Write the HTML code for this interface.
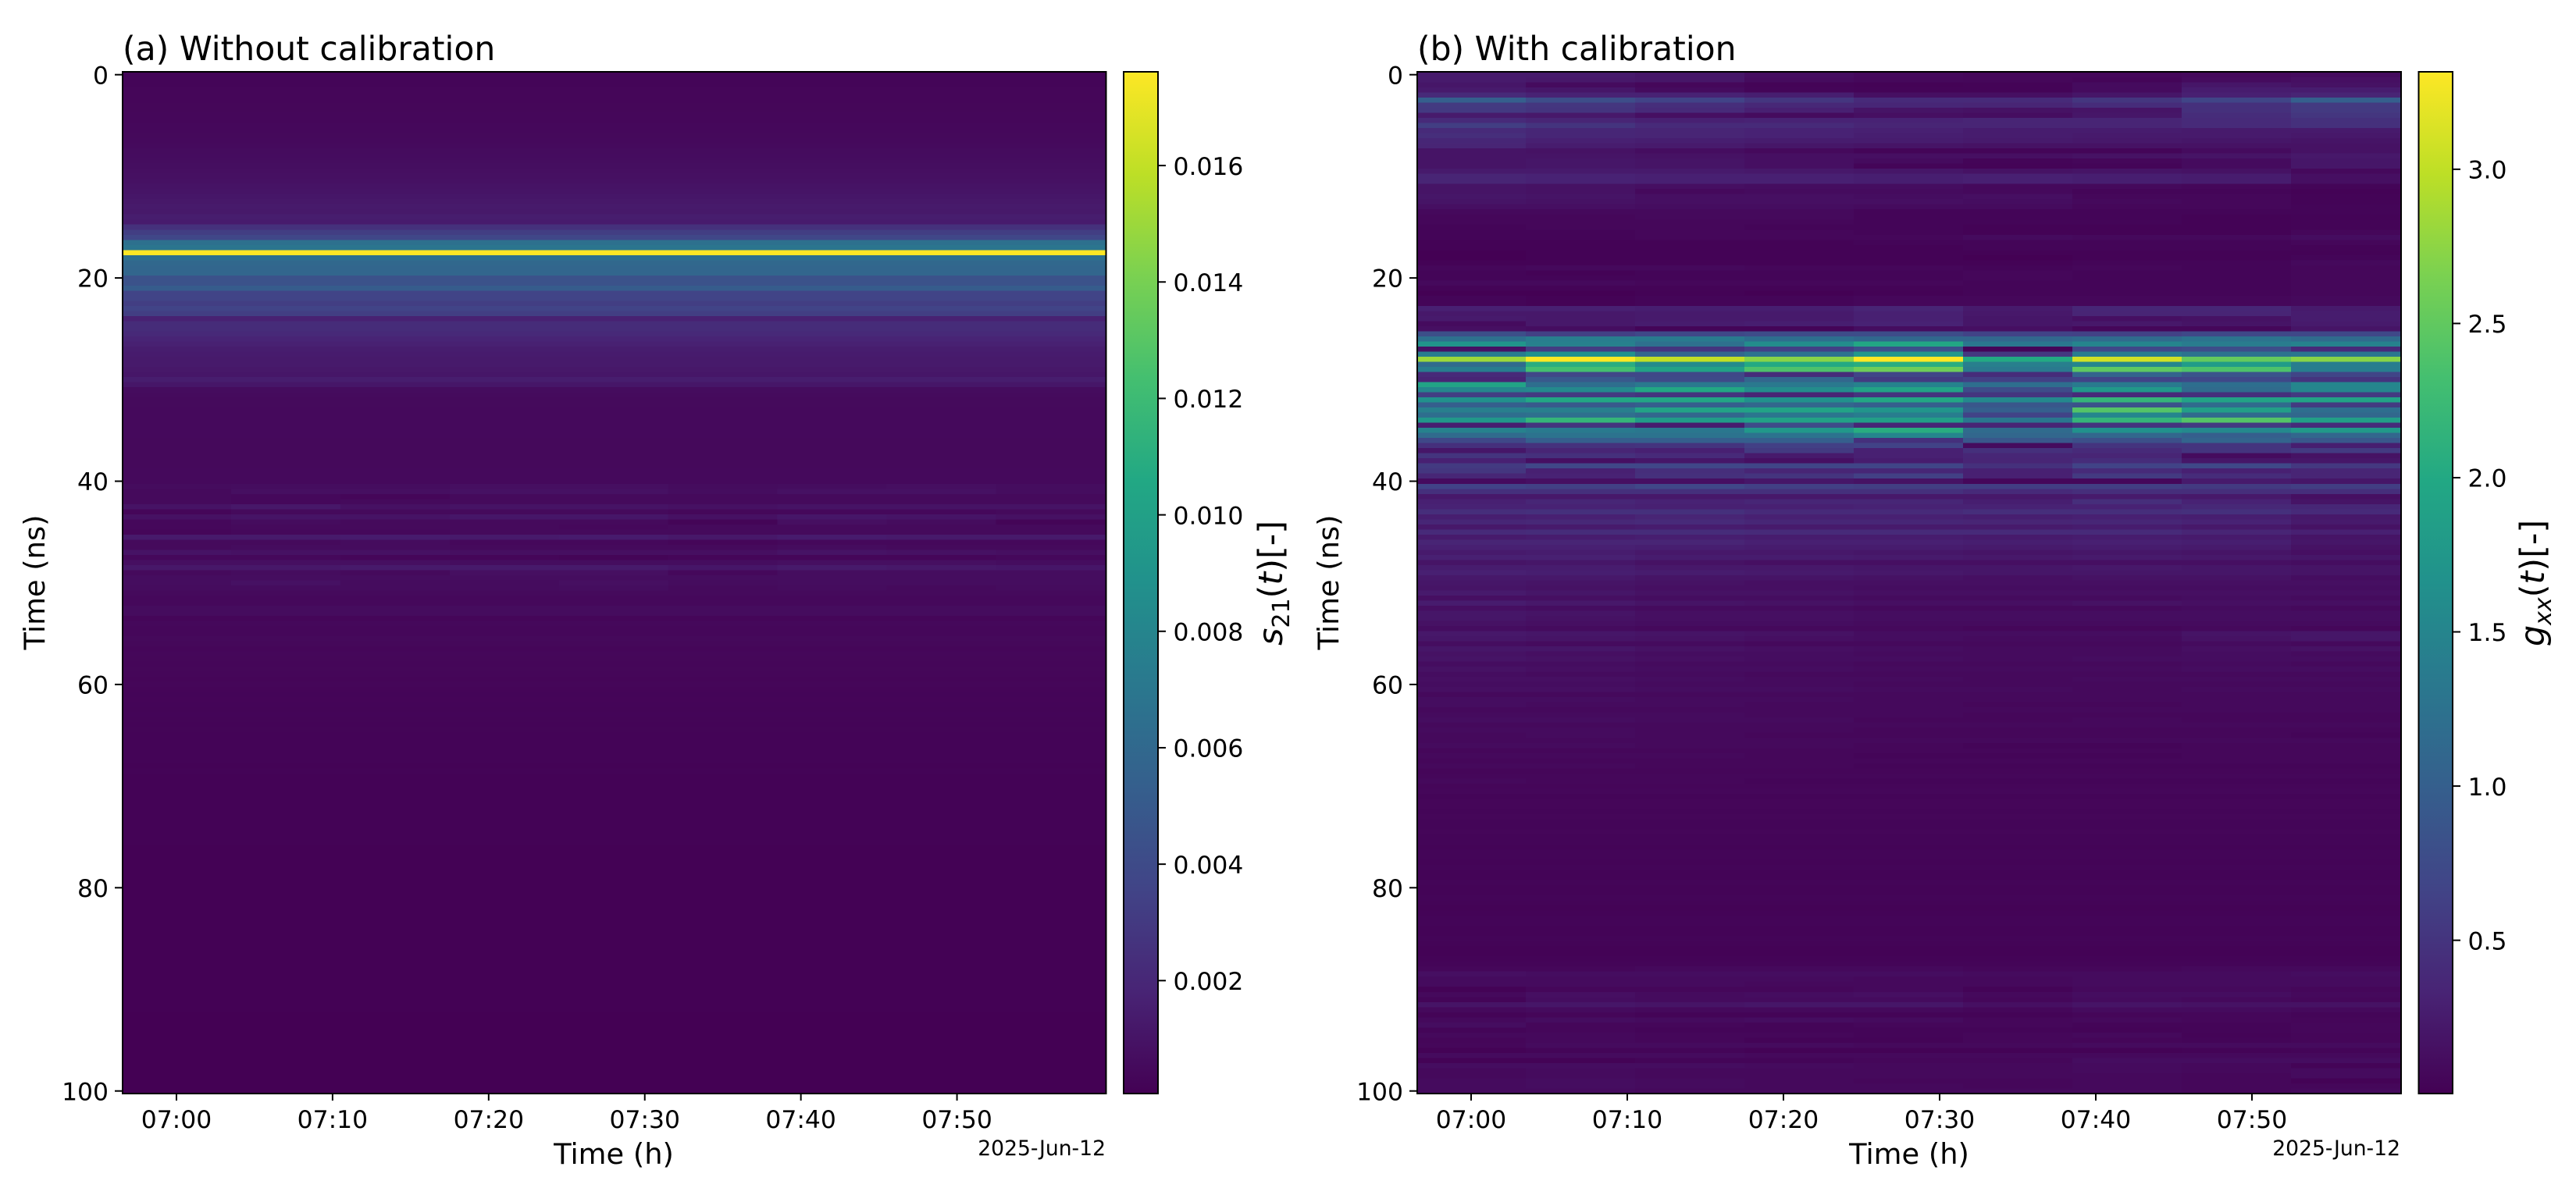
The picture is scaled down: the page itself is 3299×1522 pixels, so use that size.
<!DOCTYPE html>
<html lang="en">
<head>
<meta charset="utf-8">
<title>Without and with calibration heatmaps</title>
<style>
html,body{margin:0;padding:0;background:#fff;}
svg{display:block;font-family:"DejaVu Sans","Liberation Sans",sans-serif;fill:#000;}
</style>
</head>
<body>
<svg id="figure" xmlns="http://www.w3.org/2000/svg" width="3299" height="1522" viewBox="0 0 3299 1522">
  <defs>
    <linearGradient id="viridis-gradient" x1="0" y1="1" x2="0" y2="0"></linearGradient>
  </defs>
  <rect x="0" y="0" width="3299" height="1522" fill="#ffffff"/>
  <g id="panel-a"></g>
  <g id="panel-b"></g>

  <text x="157" y="77" font-size="42.5">(a) Without calibration</text>
  <text x="1815" y="77" font-size="42.5">(b) With calibration</text>

  <text transform="translate(57,746) rotate(-90)" text-anchor="middle" font-size="36.8">Time (ns)</text>
  <text transform="translate(1714,746) rotate(-90)" text-anchor="middle" font-size="36.8">Time (ns)</text>

  <text x="786" y="1491" text-anchor="middle" font-size="36.8">Time (h)</text>
  <text x="2445" y="1491" text-anchor="middle" font-size="36.8">Time (h)</text>

  <text x="1416" y="1480" text-anchor="end" font-size="26.6">2025-Jun-12</text>
  <text x="3074" y="1480" text-anchor="end" font-size="26.6">2025-Jun-12</text>

  <text transform="translate(1642,747) rotate(-90)" text-anchor="middle" font-size="43"><tspan font-style="italic">s</tspan><tspan dy="9" font-size="30">21</tspan><tspan dy="-9">(</tspan><tspan font-style="italic">t</tspan><tspan>)[-]</tspan></text>
  <text transform="translate(3258,747) rotate(-90)" text-anchor="middle" font-size="43"><tspan font-style="italic">g</tspan><tspan dy="9" font-size="30" font-style="italic">xx</tspan><tspan dy="-9">(</tspan><tspan font-style="italic">t</tspan><tspan>)[-]</tspan></text>
</svg>

<script>
// ---------- shared axis data ----------
const columnMinutes = [0, 7, 14, 21, 28, 35, 42, 49, 56];
const xTickMinutes = [0, 10, 20, 30, 40, 50];
const xTickLabels = ["07:00", "07:10", "07:20", "07:30", "07:40", "07:50"];
const yTicks = [0, 20, 40, 60, 80, 100];
const rowStepNs = 0.5;
const viridisStops = ["#440154", "#482475", "#414487", "#355f8d", "#2a788e", "#21918c", "#22a884", "#44bf70", "#7ad151", "#bddf26", "#fde725"];

const colorbarATicks = [0.002, 0.004, 0.006, 0.008, 0.010, 0.012, 0.014, 0.016];
const colorbarATickLabels = ["0.002", "0.004", "0.006", "0.008", "0.010", "0.012", "0.014", "0.016"];
const colorbarARange = [0.00006, 0.01761];
const colorbarBTicks = [0.5, 1.0, 1.5, 2.0, 2.5, 3.0];
const colorbarBTickLabels = ["0.5", "1.0", "1.5", "2.0", "2.5", "3.0"];
const colorbarBRange = [0.003, 3.316];

// ---------- panel (a): s21 in units of 1e-5; a single number means the row is uniform across columns ----------
const s21Rows = [
27,27,27,31,31,31,34,34,38,38,41,41,45,48,52,
59,62,66,69,76,80,85,94,
103,111,120,129,125,146,138,
252,322,375,655,690,1761,655,594,585,585,
445,445,515,357,357,322,357,322,164,225,
225,208,181,164,146,138,129,129,120,111,
146,111,59,55,50,50,48,48,46,46,
46,46,44,44,44,44,44,44,46,46,
46,
[59,67,67,76,76,59,67,76,67],
[50,76,76,85,85,67,85,85,67],
[50,41,32,50,50,50,50,50,50],
[50,41,50,50,50,50,50,50,50],
[94,120,85,94,94,85,94,94,94],
[32,50,50,50,50,40,41,41,50],
[85,103,94,111,111,85,111,103,85],
[41,59,50,50,50,24,76,59,24],
[41,50,50,50,41,50,50,50,50],
[32,41,41,50,50,50,50,50,50],
[129,129,138,129,138,120,138,129,129],
[50,50,59,41,41,32,41,41,41],
[50,59,59,50,50,50,59,50,50],
[94,85,85,76,76,76,94,85,76],
[41,41,32,32,24,32,32,32,41],
[76,76,76,67,67,67,76,76,67],
[120,120,129,129,129,111,129,120,111],
[50,59,50,76,76,41,67,67,67],
67,
[67,85,59,59,76,59,67,67,67],
[59,59,59,59,67,50,59,50,59],
50,41,41,59,59,32,
41,38,36,44,40,32,36,34,30,34,30,28,
30,28,26,28,26,24,26,24,22,24,22,22,20,22,20,20,18,20,18,18,
18,16,18,16,16,16,15,15,14,14,14,14,13,13,13,12,12,12,12,12,
11,11,11,11,11,10,10,10,10,10,10,10,10,9,9,9,9,9,9,9,
9,9,9,9,9,8,8,8,8,8,8,8,8,8,8,8,8,8,8,8,8
];

// ---------- panel (b): g_xx in units of 0.01; one entry per 0.5 ns row, nine time columns ----------
const gxxRows = [
[24,24,20,12,8,6,6,8,10],
[24,22,20,10,7,6,4,10,14],
[20,10,6,3,2,3,10,20,16],
[24,20,10,4,3,3,10,26,26],
[40,32,32,28,14,14,20,30,34],
[100,78,66,52,40,40,52,68,100],
[56,52,44,38,36,34,42,46,56],
[55,50,40,30,18,16,18,46,56],
[24,22,14,10,14,12,20,42,52],
[40,34,30,32,32,34,34,40,46],
[60,50,40,40,34,34,34,40,46],
[40,36,34,32,30,26,26,24,24],
[44,36,34,32,28,26,24,24,22],
[36,30,28,26,26,24,22,20,18],
[34,26,24,20,18,16,16,16,16],
[18,16,12,8,4,4,4,10,16],
[18,18,16,14,14,14,16,18,22],
[18,20,18,14,10,4,6,10,20],
[18,20,18,14,4,3,4,10,20],
[24,24,24,22,20,16,18,16,8],
[34,32,30,30,28,30,28,26,14],
[34,32,30,30,28,30,28,26,14],
[18,16,14,12,12,8,8,6,4],
[18,16,8,10,10,8,4,4,2],
[20,18,14,14,12,14,6,6,3],
[18,16,14,14,14,12,8,6,3],
[14,14,12,12,10,10,6,6,4],
[8,8,8,8,4,4,4,4,4],
[6,6,8,8,4,4,4,2,3],
[6,6,6,6,4,4,4,2,3],
[4,6,6,4,4,2,2,2,3],
[4,4,6,6,4,2,2,2,6],
[4,4,6,6,6,10,8,8,12],
[2,2,2,2,4,4,4,4,6],
[2,2,2,2,2,4,4,4,3],
[0,2,2,2,2,2,2,2,2],
[0,2,2,2,2,0,2,2,4],
[2,2,2,2,2,2,4,4,8],
[6,8,8,6,6,4,6,4,6],
[4,2,4,4,4,6,4,4,6],
[4,4,4,4,4,6,4,4,6],
[8,8,6,6,6,4,4,4,6],
[3,3,3,3,3,4,4,4,6],
[0,0,2,0,2,4,4,4,6],
[4,2,4,4,6,6,6,6,8],
[4,2,4,4,6,6,6,6,8],
[30,30,28,28,34,24,36,36,24],
[22,22,24,24,30,22,34,34,26],
[24,22,24,24,30,20,14,16,26],
[10,22,26,28,32,20,22,18,24],
[14,12,4,4,12,14,6,6,18],
[80,62,72,76,78,66,64,72,72],
[122,140,136,120,112,110,116,126,116],
[172,144,122,160,198,132,150,138,146],
[16,58,50,62,82,4,72,78,40],
[140,166,110,126,176,54,140,126,132],
[282,331,300,272,331,200,308,252,272],
[116,206,158,200,206,142,150,182,140],
[140,232,190,238,258,134,248,238,140],
[40,70,72,42,68,42,106,86,68],
[34,92,74,110,56,62,66,72,50],
[192,120,134,134,146,120,136,120,152],
[152,156,198,160,192,76,176,116,152],
[60,56,50,34,50,52,40,46,56],
[166,198,196,166,198,156,218,192,192],
[100,92,100,110,100,90,84,116,56],
[142,142,192,192,172,100,242,186,120],
[120,122,110,130,140,66,152,116,112],
[176,218,182,190,186,132,218,242,186],
[28,50,26,76,36,34,50,56,42],
[146,136,132,176,206,116,166,156,178],
[116,126,126,126,152,110,110,100,110],
[72,100,100,100,46,90,80,106,90],
[46,48,50,62,66,10,50,50,28],
[20,34,30,56,30,46,40,50,56],
[50,46,40,24,30,36,34,10,16],
[30,14,20,14,26,34,42,20,20],
[56,70,70,68,68,46,66,72,54],
[52,30,44,34,36,30,40,30,34],
[36,32,46,50,62,30,56,42,34],
[10,14,14,20,16,6,6,24,20],
[66,62,70,62,60,60,60,56,60],
[46,46,46,46,46,40,44,44,44],
[22,22,22,22,22,22,24,22,14],
[30,36,32,36,36,28,44,32,18],
[32,32,30,30,32,32,32,38,36],
[44,46,46,40,40,44,44,46,40],
[28,30,34,30,30,28,30,28,22],
[36,38,40,36,36,34,36,32,24],
[22,24,26,24,24,24,26,22,16],
[40,42,42,40,40,40,40,34,30],
[24,26,28,26,26,24,26,24,18],
[34,34,34,30,30,28,30,28,20],
[30,30,28,26,26,24,26,24,16],
[24,26,22,22,20,18,20,18,14],
[30,30,26,26,24,22,24,22,20],
[18,20,16,14,14,14,14,14,12],
[26,26,22,22,20,20,22,20,18],
[30,28,26,24,22,20,20,20,18],
[22,22,18,18,16,14,16,16,12],
[20,18,16,14,14,14,14,14,14],
[18,16,14,14,12,12,12,12,12],
[24,20,16,16,14,14,14,14,14],
[14,14,12,12,10,10,10,12,10],
[26,22,18,16,14,14,16,14,14],
[14,12,10,10,8,8,8,10,8],
[20,18,14,14,12,12,12,12,12],
[20,16,14,14,12,12,12,12,12],
[16,14,12,12,10,10,10,10,10],
[12,10,8,8,8,6,6,8,6],
[22,20,18,16,12,12,12,18,20],
[20,18,16,14,12,10,10,16,20],
[12,10,10,8,8,8,8,10,8],
[20,20,16,14,12,10,10,14,16],
[16,14,12,12,10,10,10,12,10],
[18,16,14,12,12,10,12,12,12],
[12,12,10,10,8,8,8,10,8],
[16,14,12,12,10,10,10,12,12],
[12,10,10,8,8,8,8,8,8],
[14,14,12,10,10,8,10,10,10],
[12,12,10,10,8,8,8,8,8],
[14,14,12,12,10,10,8,10,10],
8,
[12,12,10,10,8,8,8,8,8],
[12,10,10,8,8,6,6,8,8],
8,
[10,10,10,8,8,6,6,6,6],
[12,12,10,10,6,6,8,6,6],
8,
[10,10,8,8,6,6,6,6,6],
[8,10,8,6,6,6,6,6,4],
8,
[10,10,8,8,6,4,4,6,6],
6,
[8,8,8,6,4,4,4,6,6],
6,
[8,8,6,6,4,4,4,4,4],
5,6,
[8,6,6,4,4,4,4,4,4],
5,6,4,5,5,4,5,4,4,5,
4,4,3,4,4,3,4,3,3,4,
3,3,4,3,2,3,4,4,3,3,
4,3,2,2,3,4,
[6,6,8,8,8,6,6,8,8],
[14,12,12,12,12,10,10,10,12],
[10,10,10,10,8,8,10,10,10],
[10,10,10,8,8,8,10,10,10],
[2,6,6,6,8,3,8,8,6],
[8,14,10,12,14,8,12,12,8],
[4,12,10,10,10,6,10,8,6],
[18,20,18,20,20,14,18,16,16],
[8,10,8,8,8,6,10,10,8],
[3,5,3,3,3,3,5,6,4],
[8,12,10,12,10,6,8,6,5],
[12,6,6,4,6,6,4,4,6],
[4,6,4,4,4,4,3,4,6],
[8,8,6,6,4,6,8,3,5],
[5,8,6,3,3,6,5,4,5],
[6,10,10,10,8,8,10,10,10],
[2,4,4,2,2,2,2,3,4],
[10,10,10,8,8,8,8,8,8],
[2,2,4,4,6,6,12,12,12],
[12,12,12,10,8,8,10,8,3],
[8,10,8,8,8,8,10,8,10],
[8,10,8,8,8,8,8,6,10],
[10,12,10,8,6,6,8,6,2],
[10,12,10,8,8,6,8,6,6],
[10,10,8,8,8,8,8,6,8]
];

// ---------- geometry of the figure ----------
const SVG_NS = "http://www.w3.org/2000/svg";
const plotTop = 92;
const plotBottom = 1401;
const timeDomain = [-3.45, 59.55];
const nsPerPixel = 1 / 13.02;

function yScale(ns) { return 95.7 + ns / nsPerPixel; }
function makeXScale(left, right) {
  return function (minute) {
    return left + (minute - timeDomain[0]) / (timeDomain[1] - timeDomain[0]) * (right - left);
  };
}
function makeBarScale(range) {
  return function (value) {
    return plotBottom - (value - range[0]) / (range[1] - range[0]) * (plotBottom - plotTop);
  };
}
function hexToRgb(hex) {
  return [parseInt(hex.slice(1, 3), 16), parseInt(hex.slice(3, 5), 16), parseInt(hex.slice(5, 7), 16)];
}
function viridis(fraction) {
  const f = Math.max(0, Math.min(1, fraction)) * (viridisStops.length - 1);
  const i = Math.min(viridisStops.length - 2, Math.floor(f));
  const a = hexToRgb(viridisStops[i]);
  const b = hexToRgb(viridisStops[i + 1]);
  const t = f - i;
  return "rgb(" + Math.round(a[0] + (b[0] - a[0]) * t) + "," + Math.round(a[1] + (b[1] - a[1]) * t) + "," + Math.round(a[2] + (b[2] - a[2]) * t) + ")";
}

const gradient = document.getElementById("viridis-gradient");
viridisStops.forEach(function (color, i) {
  const stop = document.createElementNS(SVG_NS, "stop");
  stop.setAttribute("offset", i / (viridisStops.length - 1));
  stop.setAttribute("stop-color", color);
  gradient.appendChild(stop);
});

function drawLine(parent, x1, y1, x2, y2, name) {
  const line = document.createElementNS(SVG_NS, "line");
  
  
  line.setAttribute("x1", x1);
  line.setAttribute("y1", y1);
  line.setAttribute("x2", x2);
  line.setAttribute("y2", y2);
  line.setAttribute("stroke", "#000");
  line.setAttribute("stroke-width", "2");
  parent.appendChild(line);
}
function drawLabel(parent, x, y, anchor, content, name) {
  const label = document.createElementNS(SVG_NS, "text");
  
  
  label.setAttribute("x", x);
  label.setAttribute("y", y);
  label.setAttribute("text-anchor", anchor);
  label.setAttribute("font-size", "31.4");
  label.textContent = content;
  parent.appendChild(label);
}
function drawFrame(parent, x, y, w, h, fill, name) {
  const frame = document.createElementNS(SVG_NS, "rect");
  
  
  frame.setAttribute("x", x);
  frame.setAttribute("y", y);
  frame.setAttribute("width", w);
  frame.setAttribute("height", h);
  frame.setAttribute("fill", fill);
  frame.setAttribute("stroke", "#000");
  frame.setAttribute("stroke-width", "2");
  parent.appendChild(frame);
}

function drawPanel(parent, rows, unit, range, left, right, barLeft, barRight, barTicks, barLabels, prefix) {
  const xScale = makeXScale(left, right);
  const barScale = makeBarScale(range);

  // heatmap cells
  rows.forEach(function (row, r) {
    const ns = r * rowStepNs;
    const top = Math.max(plotTop, yScale(ns - rowStepNs / 2));
    const bottom = Math.min(plotBottom, yScale(ns + rowStepNs / 2));
    columnMinutes.forEach(function (minute, c) {
      const value = (Array.isArray(row) ? row[c] : row) * unit;
      const x0 = Math.max(left, xScale(minute - 3.5));
      const x1 = Math.min(right, xScale(minute + 3.5));
      const cell = document.createElementNS(SVG_NS, "rect");
      
      
      cell.setAttribute("x", x0);
      cell.setAttribute("y", top);
      cell.setAttribute("width", x1 - x0);
      cell.setAttribute("height", bottom - top);
      cell.setAttribute("shape-rendering", "crispEdges");
      cell.setAttribute("fill", viridis((value - range[0]) / (range[1] - range[0])));
      parent.appendChild(cell);
    });
  });

  // axes frame
  drawFrame(parent, left, plotTop, right - left, plotBottom - plotTop, "none", prefix + "-plot-frame");

  // y ticks
  yTicks.forEach(function (tick) {
    const y = yScale(tick);
    drawLine(parent, left - 10, y, left, y, prefix + "-y-tick");
    drawLabel(parent, left - 18, y + 11.6, "end", String(tick), prefix + "-y-tick-label");
  });

  // x ticks
  xTickMinutes.forEach(function (minute, i) {
    const x = xScale(minute);
    drawLine(parent, x, plotBottom, x, plotBottom + 9, prefix + "-x-tick");
    drawLabel(parent, x, 1445, "middle", xTickLabels[i], prefix + "-x-tick-label");
  });

  // colorbar
  drawFrame(parent, barLeft, plotTop, barRight - barLeft, plotBottom - plotTop, "url(#viridis-gradient)", prefix + "-colorbar");
  barTicks.forEach(function (tick, i) {
    const y = barScale(tick);
    drawLine(parent, barRight, y, barRight + 10, y, prefix + "-colorbar-tick");
    drawLabel(parent, barRight + 19.5, y + 11.7, "start", barLabels[i], prefix + "-colorbar-tick-label");
  });
}

drawPanel(document.getElementById("panel-a"), s21Rows, 1e-5, colorbarARange, 157, 1416.5, 1439, 1483, colorbarATicks, colorbarATickLabels, "panel-a");
drawPanel(document.getElementById("panel-b"), gxxRows, 0.01, colorbarBRange, 1815, 3075, 3097.5, 3141, colorbarBTicks, colorbarBTickLabels, "panel-b");
</script>
</body>
</html>
